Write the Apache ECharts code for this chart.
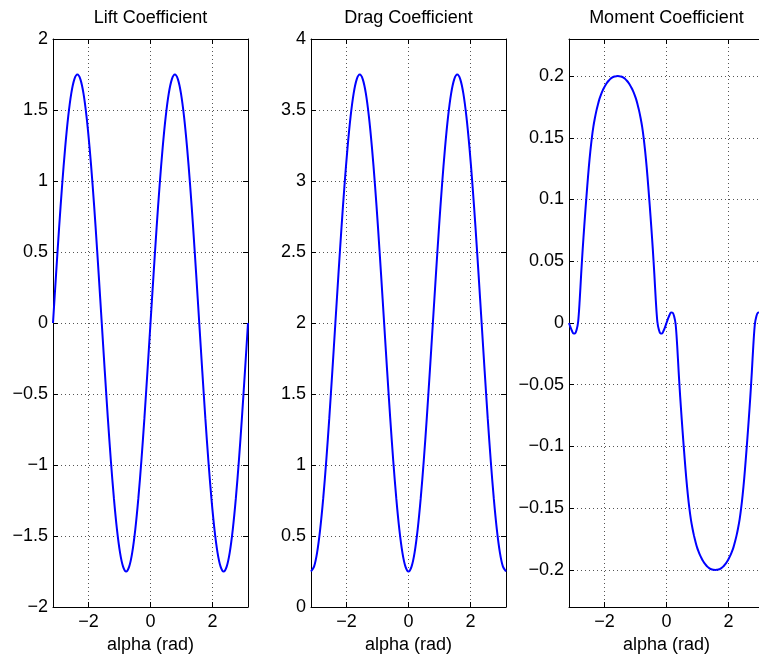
<!DOCTYPE html>
<html><head><meta charset="utf-8">
<script src="https://cdn.jsdelivr.net/npm/echarts@6/dist/echarts.min.js"></script>
<style>html,body{margin:0;padding:0;background:#fff}#c{width:759px;height:656px}</style>
</head><body><div id="c"></div><script>
const alpha = [-3.1416,-3.0434,-2.9452,-2.8471,-2.7489,-2.6507,-2.5525,-2.4544,-2.3562,-2.2580,-2.1598,-2.0617,-1.9635,-1.8653,-1.7671,-1.6690,-1.5708,-1.4726,-1.3744,-1.2763,-1.1781,-1.0799,-0.9817,-0.8836,-0.7854,-0.6872,-0.5890,-0.4909,-0.3927,-0.2945,-0.1963,-0.0982,0,0.0982,0.1963,0.2945,0.3927,0.4909,0.5890,0.6872,0.7854,0.8836,0.9817,1.0799,1.1781,1.2763,1.3744,1.4726,1.5708,1.6690,1.7671,1.8653,1.9635,2.0617,2.1598,2.2580,2.3562,2.4544,2.5525,2.6507,2.7489,2.8471,2.9452,3.0434,3.1416];
const lift = [0,0.341,0.670,0.972,1.237,1.455,1.617,1.716,1.75,1.716,1.617,1.455,1.237,0.972,0.670,0.341,0,-0.341,-0.670,-0.972,-1.237,-1.455,-1.617,-1.716,-1.75,-1.716,-1.617,-1.455,-1.237,-0.972,-0.670,-0.341,
  0,0.341,0.670,0.972,1.237,1.455,1.617,1.716,1.75,1.716,1.617,1.455,1.237,0.972,0.670,0.341,0,-0.341,-0.670,-0.972,-1.237,-1.455,-1.617,-1.716,-1.75,-1.716,-1.617,-1.455,-1.237,-0.972,-0.670,-0.341,0];
const drag = [0.25,0.284,0.383,0.545,0.763,1.028,1.330,1.659,2,2.341,2.670,2.972,3.237,3.455,3.617,3.716,3.75,3.716,3.617,3.455,3.237,2.972,2.670,2.341,2,1.659,1.330,1.028,0.763,0.545,0.383,0.284,
  0.25,0.284,0.383,0.545,0.763,1.028,1.330,1.659,2,2.341,2.670,2.972,3.237,3.455,3.617,3.716,3.75,3.716,3.617,3.455,3.237,2.972,2.670,2.341,2,1.659,1.330,1.028,0.763,0.545,0.383,0.284,0.25];
const alphaFine = [-3.1416,-3.0925,-3.0434,-2.9943,-2.9452,-2.8962,-2.8471,-2.7980,-2.7489,-2.6998,-2.6507,-2.6016,-2.5525,-2.5035,-2.4544,-2.4053,-2.3562,-2.3071,-2.2580,-2.2089,-2.1598,-2.1108,-2.0617,-2.0126,-1.9635,-1.9144,-1.8653,-1.8162,-1.7671,-1.7181,-1.6690,-1.6199,
  -1.5708,-1.5217,-1.4726,-1.4235,-1.3744,-1.3254,-1.2763,-1.2272,-1.1781,-1.1290,-1.0799,-1.0308,-0.9817,-0.9327,-0.8836,-0.8345,-0.7854,-0.7363,-0.6872,-0.6381,-0.5890,-0.5400,-0.4909,-0.4418,-0.3927,-0.3436,-0.2945,-0.2454,-0.1963,-0.1473,-0.0982,-0.0491,
  0,0.0491,0.0982,0.1473,0.1963,0.2454,0.2945,0.3436,0.3927,0.4418,0.4909,0.5400,0.5890,0.6381,0.6872,0.7363,0.7854,0.8345,0.8836,0.9327,0.9817,1.0308,1.0799,1.1290,1.1781,1.2272,1.2763,1.3254,1.3744,1.4235,1.4726,1.5217,
  1.5708,1.6199,1.6690,1.7181,1.7671,1.8162,1.8653,1.9144,1.9635,2.0126,2.0617,2.1108,2.1598,2.2089,2.2580,2.3071,2.3562,2.4053,2.4544,2.5035,2.5525,2.6016,2.6507,2.6998,2.7489,2.7980,2.8471,2.8962,2.9452,2.9943,3.0434,3.0925,3.1416];
const moment = [0,-0.0035,-0.0065,-0.0086,-0.0084,-0.0055,0.001,0.018,0.040,0.060,0.078,0.095,0.111,0.126,0.139,0.150,0.159,0.166,0.172,0.177,0.1815,0.185,0.188,0.1905,0.1928,0.1947,0.1962,0.1975,0.1985,0.1992,0.1996,0.1999,
  0.2,0.1999,0.1996,0.1992,0.1985,0.1975,0.1962,0.1947,0.1928,0.1905,0.188,0.185,0.1815,0.177,0.172,0.166,0.159,0.150,0.139,0.126,0.111,0.095,0.078,0.060,0.040,0.018,0.001,-0.0055,-0.0084,-0.0086,-0.0065,-0.0035,
  0,0.0035,0.0065,0.0086,0.0084,0.0055,-0.001,-0.018,-0.040,-0.060,-0.078,-0.095,-0.111,-0.126,-0.139,-0.150,-0.159,-0.166,-0.172,-0.177,-0.1815,-0.185,-0.188,-0.1905,-0.1928,-0.1947,-0.1962,-0.1975,-0.1985,-0.1992,-0.1996,-0.1999,
  -0.2,-0.1999,-0.1996,-0.1992,-0.1985,-0.1975,-0.1962,-0.1947,-0.1928,-0.1905,-0.188,-0.185,-0.1815,-0.177,-0.172,-0.166,-0.159,-0.150,-0.139,-0.126,-0.111,-0.095,-0.078,-0.060,-0.040,-0.018,-0.001,0.0055,0.0084,0.0086,0.0065,0.0035,0];
const titles = ['Lift Coefficient','Drag Coefficient','Moment Coefficient'];
const xName = 'alpha (rad)';
const xRange = [-3.1416, 3.1416];
const yRanges = [[-2,2,0.5],[0,4,0.5],[-0.23,0.23,0.05]];
const seriesX = [alpha, alpha, alphaFine];
const seriesValues = [lift, drag, moment];

const FONT = '"Liberation Sans", Arial, Helvetica, sans-serif';
const FS = 18;
const gridLefts = [53, 311, 569];
function fmt(v){ const r = Math.round(v*1e4)/1e4; return r < 0 ? '\u2212' + (-r) : String(r); }
const dotted = {show:true, showMinLine:false, showMaxLine:false, lineStyle:{color:'#555', width:1, type:[1,3]}};
const grids=[], xAxes=[], yAxes=[], series=[];
for (let i=0;i<3;i++){
  grids.push({left:gridLefts[i], top:39, width:195, height:568, containLabel:false, outerBoundsMode:'none'});
  const xb = {gridIndex:i, type:'value', min:xRange[0], max:xRange[1], splitNumber:3, minInterval:2, maxInterval:2};
  xAxes.push(Object.assign({}, xb, {position:'bottom',
    axisLine:{show:true,onZero:false,lineStyle:{color:'#000',width:1}},
    axisTick:{show:true,inside:true,length:5,lineStyle:{color:'#000'}},
    axisLabel:{showMinLabel:false,showMaxLabel:false,formatter:fmt,color:'#000',fontSize:FS,fontFamily:FONT,margin:6},
    splitLine:dotted,
    name:xName, nameLocation:'middle', nameGap:23, nameTextStyle:{color:'#000',fontSize:FS,fontFamily:FONT}}));
  xAxes.push(Object.assign({}, xb, {position:'top',
    axisLine:{show:true,onZero:false,lineStyle:{color:'#000',width:1}},
    axisTick:{show:true,inside:true,length:5,lineStyle:{color:'#000'}},
    axisLabel:{show:false}, splitLine:{show:false},
    name:titles[i], nameLocation:'middle', nameGap:12, nameTextStyle:{color:'#000',fontSize:FS,fontFamily:FONT}}));
  const yr = yRanges[i];
  let yb;
  if (i<2) yb = {gridIndex:i, type:'value', min:yr[0], max:yr[1], interval:yr[2]};
  else yb = {gridIndex:i, type:'value', min:yr[0], max:yr[1], splitNumber:9, minInterval:yr[2], maxInterval:yr[2]};
  yAxes.push(Object.assign({}, yb, {position:'left',
    axisLine:{show:true,onZero:false,lineStyle:{color:'#000',width:1}},
    axisTick:{show:true,inside:true,length:5,lineStyle:{color:'#000'}},
    axisLabel:{showMinLabel:i<2,showMaxLabel:i<2,formatter:fmt,color:'#000',fontSize:FS,fontFamily:FONT,margin:5},
    splitLine:dotted}));
  yAxes.push(Object.assign({}, yb, {position:'right',
    axisLine:{show:true,onZero:false,lineStyle:{color:'#000',width:1}},
    axisTick:{show:true,inside:true,length:5,lineStyle:{color:'#000'}},
    axisLabel:{show:false}, splitLine:{show:false}}));
  series.push({type:'line', xAxisIndex:2*i, yAxisIndex:2*i, showSymbol:false, smooth:0.3,
    data: seriesX[i].map((a,j)=>[a, seriesValues[i][j]]),
    lineStyle:{color:'#0000ff', width:2}, itemStyle:{color:'#0000ff'}, clip:true});
}
const chart = echarts.init(document.getElementById('c'), null, {renderer:'canvas'});
chart.setOption({animation:false, backgroundColor:'#fff', grid:grids, xAxis:xAxes, yAxis:yAxes, series:series});
</script></body></html>
